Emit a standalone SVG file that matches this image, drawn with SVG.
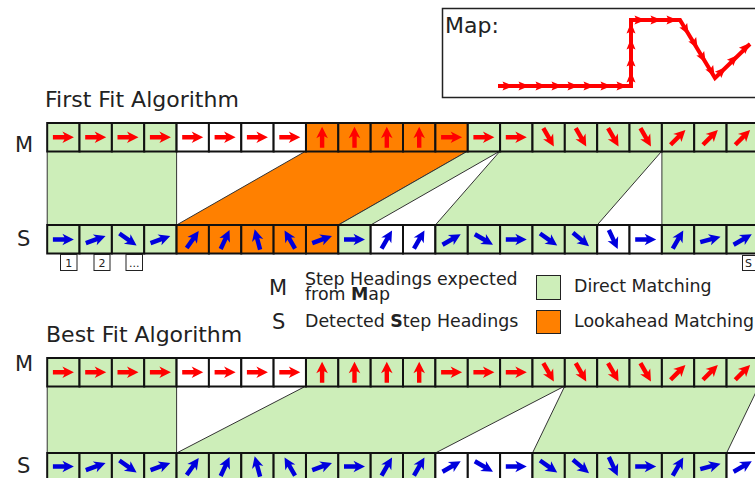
<svg xmlns="http://www.w3.org/2000/svg" width="755" height="478" viewBox="0 0 755 478">
<style>
text{font-family:"DejaVu Sans",sans-serif;fill:#222}
.t{font-size:22px}.l{font-size:17.400px}.h{font-size:21px}.n{font-size:11px}
.g{fill:#cdeeb9}.o{fill:#ff8000}.w{fill:#fff}
.c{stroke:#111;stroke-width:2}
.b{stroke:#333;stroke-width:1}
.r{fill:#f00}.u{fill:#00d}
</style>
<defs>
<path id="a" d="M-10.500,-2.200L1,-2.200L-1,-5.800L10.500,0L-1,5.800L1,2.200L-10.500,2.200Z"/>
<rect id="cell" width="32.35" height="28.5"/>
<path id="m" d="M-5.500,-4.500L5.500,0L-5.500,4.500L-3.500,0Z" fill="#f00"/>
</defs>
<rect width="755" height="478" fill="#fff"/>
<g id="map">
<rect x="442.500" y="8.500" width="320" height="89" fill="#fff" stroke="#222" stroke-width="1.500"/>
<text class="t" x="445" y="33">Map:</text>
<polyline points="498,86 631,86 631,20 680,20 715,78 750,44" fill="none" stroke="#f00" stroke-width="4"/>
<use href="#m" transform="translate(508,86)"/><use href="#m" transform="translate(524,86)"/><use href="#m" transform="translate(541,86)"/><use href="#m" transform="translate(557,86)"/><use href="#m" transform="translate(573,86)"/><use href="#m" transform="translate(589,86)"/><use href="#m" transform="translate(606,86)"/><use href="#m" transform="translate(622,86)"/>
<use href="#m" transform="translate(631,77) rotate(-90)"/><use href="#m" transform="translate(631,61) rotate(-90)"/><use href="#m" transform="translate(631,44) rotate(-90)"/><use href="#m" transform="translate(631,28) rotate(-90)"/>
<use href="#m" transform="translate(640,20)"/><use href="#m" transform="translate(656,20)"/><use href="#m" transform="translate(672,20)"/>
<use href="#m" transform="translate(686,30) rotate(60)"/><use href="#m" transform="translate(695,44) rotate(60)"/><use href="#m" transform="translate(703,58) rotate(60)"/><use href="#m" transform="translate(712,72) rotate(60)"/>
<use href="#m" transform="translate(722,71) rotate(-45)"/><use href="#m" transform="translate(734,59) rotate(-45)"/><use href="#m" transform="translate(746,47) rotate(-45)"/>
</g>
<g id="titles">
<text class="t" x="45" y="107">First Fit Algorithm</text>
<text class="t" x="46" y="342">Best Fit Algorithm</text>
<text class="h" x="15" y="152">M</text>
<text class="h" x="17" y="246">S</text>
<text class="h" x="15" y="371">M</text>
<text class="h" x="17" y="473">S</text>
</g>
<g id="connectors">
<g id="first-fit-bands" class="b">
<rect class="g" x="47.200" y="151" width="129.400" height="74"/>
<polygon class="o" points="306,151 467.800,151 338.300,225 176.600,225"/>
<polygon class="g" points="467.800,151 500.100,151 370.700,225 338.300,225"/>
<polygon class="g" points="500.100,151 661.900,151 597.200,225 435.400,225"/>
<path class="g" d="M661.900,151H770V225H661.900Z"/>
</g>
<g id="best-fit-bands" class="b">
<rect class="g" x="47.200" y="386" width="129.400" height="67"/>
<polygon class="g" points="306,386 564.800,386 435.400,453 176.600,453"/>
<polygon class="g" points="564.800,386 758.900,386 726.600,453 532.500,453"/>
</g>
</g>
<g id="first-fit-m" class="c">
<use href="#cell" class="g" x="47.200" y="123"/><use href="#cell" class="g" x="79.500" y="123"/><use href="#cell" class="g" x="111.900" y="123"/><use href="#cell" class="g" x="144.200" y="123"/><use href="#cell" class="w" x="176.600" y="123"/><use href="#cell" class="w" x="208.900" y="123"/><use href="#cell" class="w" x="241.300" y="123"/><use href="#cell" class="w" x="273.600" y="123"/><use href="#cell" class="o" x="306" y="123"/><use href="#cell" class="o" x="338.300" y="123"/><use href="#cell" class="o" x="370.700" y="123"/><use href="#cell" class="o" x="403" y="123"/><use href="#cell" class="o" x="435.400" y="123"/><use href="#cell" class="g" x="467.800" y="123"/><use href="#cell" class="g" x="500.100" y="123"/><use href="#cell" class="g" x="532.500" y="123"/><use href="#cell" class="g" x="564.800" y="123"/><use href="#cell" class="g" x="597.200" y="123"/><use href="#cell" class="g" x="629.500" y="123"/><use href="#cell" class="g" x="661.900" y="123"/><use href="#cell" class="g" x="694.200" y="123"/><use href="#cell" class="g" x="726.600" y="123"/>
</g>
<g id="first-fit-m-arrows" class="r">
<use href="#a" transform="translate(63.400,137.300)"/><use href="#a" transform="translate(95.700,137.300)"/><use href="#a" transform="translate(128,137.300)"/><use href="#a" transform="translate(160.400,137.300)"/><use href="#a" transform="translate(192.700,137.300)"/><use href="#a" transform="translate(225.100,137.300)"/><use href="#a" transform="translate(257.400,137.300)"/><use href="#a" transform="translate(289.800,137.300)"/><use href="#a" transform="translate(322.100,137.300) rotate(-90)"/><use href="#a" transform="translate(354.500,137.300) rotate(-90)"/><use href="#a" transform="translate(386.800,137.300) rotate(-90)"/><use href="#a" transform="translate(419.200,137.300) rotate(-90)"/><use href="#a" transform="translate(451.600,137.300)"/><use href="#a" transform="translate(483.900,137.300)"/><use href="#a" transform="translate(516.300,137.300)"/><use href="#a" transform="translate(548.600,137.300) rotate(60)"/><use href="#a" transform="translate(581,137.300) rotate(60)"/><use href="#a" transform="translate(613.300,137.300) rotate(60)"/><use href="#a" transform="translate(645.700,137.300) rotate(60)"/><use href="#a" transform="translate(678,137.300) rotate(-45)"/><use href="#a" transform="translate(710.400,137.300) rotate(-45)"/><use href="#a" transform="translate(742.700,137.300) rotate(-45)"/>
</g>
<g id="first-fit-s" class="c">
<use href="#cell" class="g" x="47.200" y="225"/><use href="#cell" class="g" x="79.500" y="225"/><use href="#cell" class="g" x="111.900" y="225"/><use href="#cell" class="g" x="144.200" y="225"/><use href="#cell" class="o" x="176.600" y="225"/><use href="#cell" class="o" x="208.900" y="225"/><use href="#cell" class="o" x="241.300" y="225"/><use href="#cell" class="o" x="273.600" y="225"/><use href="#cell" class="o" x="306" y="225"/><use href="#cell" class="g" x="338.300" y="225"/><use href="#cell" class="w" x="370.700" y="225"/><use href="#cell" class="w" x="403" y="225"/><use href="#cell" class="g" x="435.400" y="225"/><use href="#cell" class="g" x="467.800" y="225"/><use href="#cell" class="g" x="500.100" y="225"/><use href="#cell" class="g" x="532.500" y="225"/><use href="#cell" class="g" x="564.800" y="225"/><use href="#cell" class="w" x="597.200" y="225"/><use href="#cell" class="w" x="629.500" y="225"/><use href="#cell" class="g" x="661.900" y="225"/><use href="#cell" class="g" x="694.200" y="225"/><use href="#cell" class="g" x="726.600" y="225"/>
</g>
<g id="first-fit-s-arrows" class="u">
<use href="#a" transform="translate(63.400,239.500)"/><use href="#a" transform="translate(95.700,239.500) rotate(-20)"/><use href="#a" transform="translate(128,239.500) rotate(35)"/><use href="#a" transform="translate(160.400,239.500) rotate(-20)"/><use href="#a" transform="translate(192.700,239.500) rotate(-55)"/><use href="#a" transform="translate(225.100,239.500) rotate(-65)"/><use href="#a" transform="translate(257.400,239.500) rotate(-105)"/><use href="#a" transform="translate(289.800,239.500) rotate(-120)"/><use href="#a" transform="translate(322.100,239.500) rotate(-20)"/><use href="#a" transform="translate(354.500,239.500)"/><use href="#a" transform="translate(386.800,239.500) rotate(-60)"/><use href="#a" transform="translate(419.200,239.500) rotate(-60)"/><use href="#a" transform="translate(451.600,239.500) rotate(-30)"/><use href="#a" transform="translate(483.900,239.500) rotate(30)"/><use href="#a" transform="translate(516.300,239.500)"/><use href="#a" transform="translate(548.600,239.500) rotate(35)"/><use href="#a" transform="translate(581,239.500) rotate(40)"/><use href="#a" transform="translate(613.300,239.500) rotate(65)"/><use href="#a" transform="translate(645.700,239.500)"/><use href="#a" transform="translate(678,239.500) rotate(-60)"/><use href="#a" transform="translate(710.400,239.500) rotate(-15)"/><use href="#a" transform="translate(742.700,239.500) rotate(-30)"/>
</g>
<g id="index-labels" fill="#fff" stroke="#222" stroke-width="1">
<rect x="60.500" y="254.500" width="16.500" height="16"/><rect x="94" y="254.500" width="16" height="16"/><rect x="126" y="254.500" width="16.500" height="16"/><rect x="742.500" y="255.500" width="20" height="15"/>
</g>
<g id="index-text">
<text class="n" x="68.700" y="266.500" text-anchor="middle">1</text>
<text class="n" x="102" y="266.500" text-anchor="middle">2</text>
<text class="n" x="134.200" y="266.500" text-anchor="middle">...</text>
<text class="n" x="745" y="267">S</text>
</g>
<g id="legend">
<text class="h" x="269" y="295">M</text>
<text class="h" x="272" y="329">S</text>
<text class="l" x="305" y="285">Step Headings expected</text>
<text class="l" x="305" y="300">from <tspan font-weight="bold">M</tspan>ap</text>
<text class="l" x="305" y="326.500">Detected <tspan font-weight="bold">S</tspan>tep Headings</text>
<rect class="g" x="536.500" y="275.500" width="24" height="24" stroke="#222"/>
<rect class="o" x="536.500" y="310.500" width="24" height="23" stroke="#222"/>
<text class="l" x="574" y="292">Direct Matching</text>
<text class="l" x="574" y="326.500">Lookahead Matching</text>
</g>
<g id="best-fit-m" class="c">
<use href="#cell" class="g" x="47.200" y="358"/><use href="#cell" class="g" x="79.500" y="358"/><use href="#cell" class="g" x="111.900" y="358"/><use href="#cell" class="g" x="144.200" y="358"/><use href="#cell" class="w" x="176.600" y="358"/><use href="#cell" class="w" x="208.900" y="358"/><use href="#cell" class="w" x="241.300" y="358"/><use href="#cell" class="w" x="273.600" y="358"/><use href="#cell" class="g" x="306" y="358"/><use href="#cell" class="g" x="338.300" y="358"/><use href="#cell" class="g" x="370.700" y="358"/><use href="#cell" class="g" x="403" y="358"/><use href="#cell" class="g" x="435.400" y="358"/><use href="#cell" class="g" x="467.800" y="358"/><use href="#cell" class="g" x="500.100" y="358"/><use href="#cell" class="g" x="532.500" y="358"/><use href="#cell" class="g" x="564.800" y="358"/><use href="#cell" class="g" x="597.200" y="358"/><use href="#cell" class="g" x="629.500" y="358"/><use href="#cell" class="g" x="661.900" y="358"/><use href="#cell" class="g" x="694.200" y="358"/><use href="#cell" class="g" x="726.600" y="358"/>
</g>
<g id="best-fit-m-arrows" class="r">
<use href="#a" transform="translate(63.400,372.300)"/><use href="#a" transform="translate(95.700,372.300)"/><use href="#a" transform="translate(128,372.300)"/><use href="#a" transform="translate(160.400,372.300)"/><use href="#a" transform="translate(192.700,372.300)"/><use href="#a" transform="translate(225.100,372.300)"/><use href="#a" transform="translate(257.400,372.300)"/><use href="#a" transform="translate(289.800,372.300)"/><use href="#a" transform="translate(322.100,372.300) rotate(-90)"/><use href="#a" transform="translate(354.500,372.300) rotate(-90)"/><use href="#a" transform="translate(386.800,372.300) rotate(-90)"/><use href="#a" transform="translate(419.200,372.300) rotate(-90)"/><use href="#a" transform="translate(451.600,372.300)"/><use href="#a" transform="translate(483.900,372.300)"/><use href="#a" transform="translate(516.300,372.300)"/><use href="#a" transform="translate(548.600,372.300) rotate(60)"/><use href="#a" transform="translate(581,372.300) rotate(60)"/><use href="#a" transform="translate(613.300,372.300) rotate(60)"/><use href="#a" transform="translate(645.700,372.300) rotate(60)"/><use href="#a" transform="translate(678,372.300) rotate(-45)"/><use href="#a" transform="translate(710.400,372.300) rotate(-45)"/><use href="#a" transform="translate(742.700,372.300) rotate(-45)"/>
</g>
<g id="best-fit-s" class="c">
<use href="#cell" class="g" x="47.200" y="453"/><use href="#cell" class="g" x="79.500" y="453"/><use href="#cell" class="g" x="111.900" y="453"/><use href="#cell" class="g" x="144.200" y="453"/><use href="#cell" class="g" x="176.600" y="453"/><use href="#cell" class="g" x="208.900" y="453"/><use href="#cell" class="g" x="241.300" y="453"/><use href="#cell" class="g" x="273.600" y="453"/><use href="#cell" class="g" x="306" y="453"/><use href="#cell" class="g" x="338.300" y="453"/><use href="#cell" class="g" x="370.700" y="453"/><use href="#cell" class="g" x="403" y="453"/><use href="#cell" class="w" x="435.400" y="453"/><use href="#cell" class="w" x="467.800" y="453"/><use href="#cell" class="w" x="500.100" y="453"/><use href="#cell" class="g" x="532.500" y="453"/><use href="#cell" class="g" x="564.800" y="453"/><use href="#cell" class="g" x="597.200" y="453"/><use href="#cell" class="g" x="629.500" y="453"/><use href="#cell" class="g" x="661.900" y="453"/><use href="#cell" class="g" x="694.200" y="453"/><use href="#cell" class="w" x="726.600" y="453"/>
</g>
<g id="best-fit-s-arrows" class="u">
<use href="#a" transform="translate(63.400,466.500)"/><use href="#a" transform="translate(95.700,466.500) rotate(-20)"/><use href="#a" transform="translate(128,466.500) rotate(35)"/><use href="#a" transform="translate(160.400,466.500) rotate(-20)"/><use href="#a" transform="translate(192.700,466.500) rotate(-55)"/><use href="#a" transform="translate(225.100,466.500) rotate(-65)"/><use href="#a" transform="translate(257.400,466.500) rotate(-105)"/><use href="#a" transform="translate(289.800,466.500) rotate(-120)"/><use href="#a" transform="translate(322.100,466.500) rotate(-20)"/><use href="#a" transform="translate(354.500,466.500)"/><use href="#a" transform="translate(386.800,466.500) rotate(-60)"/><use href="#a" transform="translate(419.200,466.500) rotate(-60)"/><use href="#a" transform="translate(451.600,466.500) rotate(-30)"/><use href="#a" transform="translate(483.900,466.500) rotate(30)"/><use href="#a" transform="translate(516.300,466.500)"/><use href="#a" transform="translate(548.600,466.500) rotate(35)"/><use href="#a" transform="translate(581,466.500) rotate(40)"/><use href="#a" transform="translate(613.300,466.500) rotate(65)"/><use href="#a" transform="translate(645.700,466.500)"/><use href="#a" transform="translate(678,466.500) rotate(-60)"/><use href="#a" transform="translate(710.400,466.500) rotate(-15)"/><use href="#a" transform="translate(742.700,466.500) rotate(-30)"/>
</g>
</svg>
